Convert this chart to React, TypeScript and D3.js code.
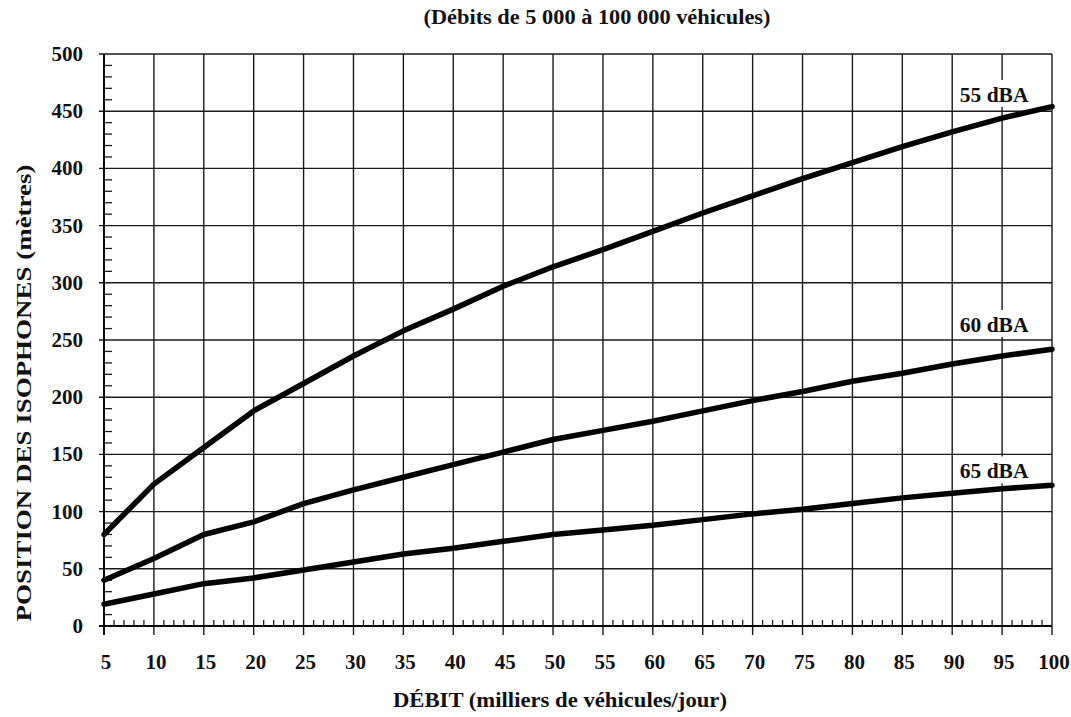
import React from "react";
import * as d3 from "d3";

const flows = [5, 10, 15, 20, 25, 30, 35, 40, 45, 50, 55, 60, 65, 70, 75, 80, 85, 90, 95, 100];
const db55 = [80, 124, 156, 188, 212, 236, 258, 277, 297, 314, 329, 345, 361, 376, 391, 405, 419, 432, 444, 454];
const db60 = [40, 59, 80, 91, 107, 119, 130, 141, 152, 163, 171, 179, 188, 197, 205, 214, 221, 229, 236, 242];
const db65 = [19, 28, 37, 42, 49, 56, 63, 68, 74, 80, 84, 88, 93, 98, 102, 107, 112, 116, 120, 123];
const seriesNames = ["55 dBA", "60 dBA", "65 dBA"];
const labelValues = [458, 257, 129];
const yTicks = [0, 50, 100, 150, 200, 250, 300, 350, 400, 450, 500];
const title = "(Débits de 5 000 à 100 000 véhicules)";
const xTitle = "DÉBIT (milliers de véhicules/jour)";
const yTitle = "POSITION DES ISOPHONES (mètres)";

const W = 1071;
const H = 717;
const left = 104, right = 1052, top = 54, bottom = 626;
const FONT = "'Liberation Serif', 'Times New Roman', serif";

export default function App() {
  const x = d3.scaleLinear().domain([5, 100]).range([left, right]);
  const y = d3.scaleLinear().domain([0, 500]).range([bottom, top]);
  const series = [db55, db60, db65];
  const line = d3
    .line<number>()
    .x((_, i) => x(flows[i]))
    .y((v) => y(v));

  const minorX = d3.range(5, 100, 1).filter((v) => v % 5 !== 0);
  const minorY = d3.range(0, 500, 10).filter((v) => v % 50 !== 0);
  const gridStroke = "#1a1a1a";

  return (
    <svg
      width={W}
      height={H}
      style={{ position: "absolute", left: 0, top: 0, background: "#fff" }}
      fontFamily={FONT}
      fontWeight="bold"
    >
      <rect x={0} y={0} width={W} height={H} fill="#fff" />
      {/* horizontal gridlines */}
      {yTicks.map((t) => (
        <line key={"h" + t} x1={left - 5} x2={right} y1={y(t)} y2={y(t)} stroke={gridStroke} strokeWidth={1.4} />
      ))}
      {/* vertical gridlines */}
      {flows.map((f) => (
        <line key={"v" + f} x1={x(f)} x2={x(f)} y1={top} y2={bottom + 9} stroke={gridStroke} strokeWidth={1.4} />
      ))}
      {/* minor ticks */}
      {minorX.map((f) => (
        <line key={"mx" + f} x1={x(f)} x2={x(f)} y1={bottom} y2={bottom - 6} stroke={gridStroke} strokeWidth={1.3} />
      ))}
      {minorY.map((t) => (
        <line key={"my" + t} x1={left} x2={left + 8} y1={y(t)} y2={y(t)} stroke={gridStroke} strokeWidth={1.3} />
      ))}
      {/* axis lines */}
      <line x1={left} x2={left} y1={top} y2={bottom + 9} stroke="#000" strokeWidth={1.8} />
      <line x1={left - 5} x2={right} y1={bottom} y2={bottom} stroke="#000" strokeWidth={1.8} />

      {/* label backgrounds */}
      {seriesNames.map((n, i) => (
        <rect
          key={"bg" + n}
          x={x(95) - 45}
          y={y(labelValues[i]) - 22}
          width={80}
          height={27}
          fill="#fff"
        />
      ))}

      {/* curves */}
      {series.map((s, i) => (
        <path
          key={"s" + i}
          d={line(s) || ""}
          fill="none"
          stroke="#000"
          strokeWidth={5.5}
          strokeLinecap="round"
          strokeLinejoin="round"
        />
      ))}

      {/* series labels */}
      {seriesNames.map((n, i) => (
        <text key={"l" + n} x={x(95) - 8} y={y(labelValues[i])} fontSize={21.5} textAnchor="middle" fill="#111">
          {n}
        </text>
      ))}

      {/* y tick labels */}
      {yTicks.map((t) => (
        <text key={"yt" + t} x={left - 21} y={y(t) + 7} fontSize={21} textAnchor="end" fill="#111">
          {t}
        </text>
      ))}
      {/* x tick labels */}
      {flows.map((f) => (
        <text key={"xt" + f} x={x(f) + 2} y={669} fontSize={21} textAnchor="middle" fill="#111">
          {f}
        </text>
      ))}

      {/* titles */}
      <text x={597} y={24} fontSize={20.5} textAnchor="middle" textLength={347} lengthAdjust="spacingAndGlyphs" fill="#111">
        {title}
      </text>
      <text x={560} y={707} fontSize={20.5} textAnchor="middle" textLength={334} lengthAdjust="spacingAndGlyphs" fill="#111">
        {xTitle}
      </text>
      <text
        transform={`translate(31, 393) rotate(-90)`}
        fontSize={20.5}
        textAnchor="middle"
        textLength={457}
        lengthAdjust="spacingAndGlyphs"
        fill="#111"
      >
        {yTitle}
      </text>
    </svg>
  );
}
